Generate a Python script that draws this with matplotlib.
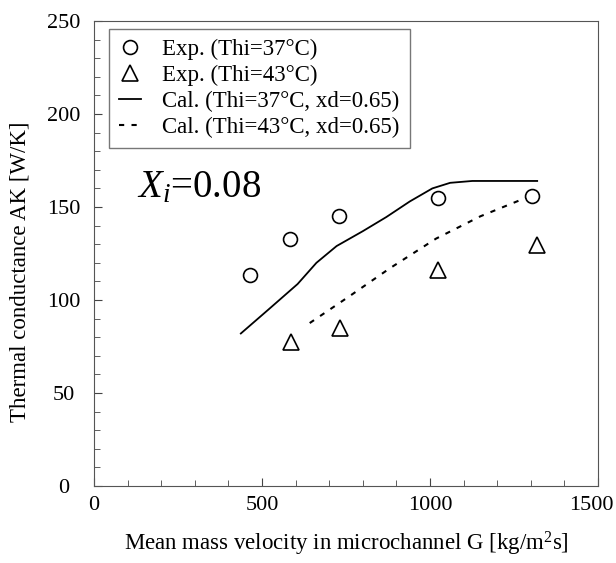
import numpy as np
import matplotlib.pyplot as plt
from matplotlib.ticker import MultipleLocator, FuncFormatter

plt.rcParams['font.family'] = ['Liberation Serif', 'DejaVu Serif']
plt.rcParams['mathtext.fontset'] = 'custom'
plt.rcParams['mathtext.rm'] = 'Liberation Serif'
plt.rcParams['mathtext.it'] = 'Liberation Serif:italic'

# experimental points
exp37_g = [463, 582, 728, 1025, 1304]
exp37_ak = [113.4, 132.8, 145.0, 155.0, 156.0]
exp43_g = [585, 731, 1025, 1319]
exp43_ak = [77.4, 85.0, 116.0, 129.6]

# calculated curves
cal37_g = [437, 520, 606, 662, 722, 800, 870, 940, 1007, 1060, 1126, 1200, 1319]
cal37_ak = [82, 95, 108.6, 120, 129, 137, 144.6, 153, 160, 163, 164, 164, 164]
cal43_g = [642, 760, 880, 1018, 1150, 1286]
cal43_ak = [87.6, 102, 117, 133, 145, 155]

X_MAX = 1500

fig = plt.figure(figsize=(6.16, 5.63), dpi=100)
ax = fig.add_axes([94 / 616, 1 - 486 / 563, 504 / 616, 465 / 563])

ax.plot(exp37_g, exp37_ak, 'o', ms=10, mfc='white', mec='black', mew=1.2,
        linestyle='none', label='Exp. (Thi=37°C)')
ax.plot(exp43_g, exp43_ak, '^', ms=11, mfc='white', mec='black', mew=1.2,
        linestyle='none', label='Exp. (Thi=43°C)')
ax.plot(cal37_g, cal37_ak, '-', color='black', lw=1.3,
        label='Cal. (Thi=37°C, xd=0.65)')
ax.plot(cal43_g, cal43_ak, color='black', lw=1.5, linestyle=(0, (2.5, 3.5)),
        label='Cal. (Thi=43°C, xd=0.65)')

ax.set_xlim(0, X_MAX)
ax.set_ylim(0, 250)
ax.xaxis.set_major_locator(MultipleLocator(500))
ax.xaxis.set_minor_locator(MultipleLocator(100))
# last x label is drawn separately, nudged left so it stays inside the figure
ax.xaxis.set_major_formatter(FuncFormatter(lambda v, p: '' if v >= X_MAX else f'{v:.0f}'))
ax.yaxis.set_major_locator(MultipleLocator(50))
ax.yaxis.set_minor_locator(MultipleLocator(10))
ax.tick_params(which='both', direction='in', labelsize=16, colors='#444444',
               labelcolor='black')
ax.tick_params(which='major', length=6)
ax.tick_params(which='minor', length=4)
ax.tick_params(axis='x', pad=7)
ax.tick_params(axis='y', pad=22)
for lab in ax.get_yticklabels():
    lab.set_horizontalalignment('center')
ax.annotate(f'{X_MAX}', xy=(X_MAX, 0), xycoords=('data', 'axes fraction'),
            xytext=(-5, -7), textcoords='offset points', ha='center', va='top',
            fontsize=16)
for s in ax.spines.values():
    s.set_color('#555555')

ax.set_xlabel('Mean mass velocity in microchannel G [kg/m$^2$s]', fontsize=16.5)
ax.xaxis.set_label_coords(0.5, -0.095)
ax.set_ylabel('Thermal conductance AK [W/K]', fontsize=16.5)
ax.yaxis.set_label_coords(-0.125, 0.46)

ax.text(0.085, 0.62, '$X_i$=0.08', transform=ax.transAxes, fontsize=28)

leg = ax.legend(loc='upper left', bbox_to_anchor=(0.03, 0.983), fontsize=16.5,
                frameon=True, fancybox=False, edgecolor='#555555',
                borderpad=0.45, labelspacing=0.2, handlelength=0.95,
                handletextpad=0.9, borderaxespad=0)
leg.get_frame().set_linewidth(1.0)

fig.savefig('out.png', dpi=100)
